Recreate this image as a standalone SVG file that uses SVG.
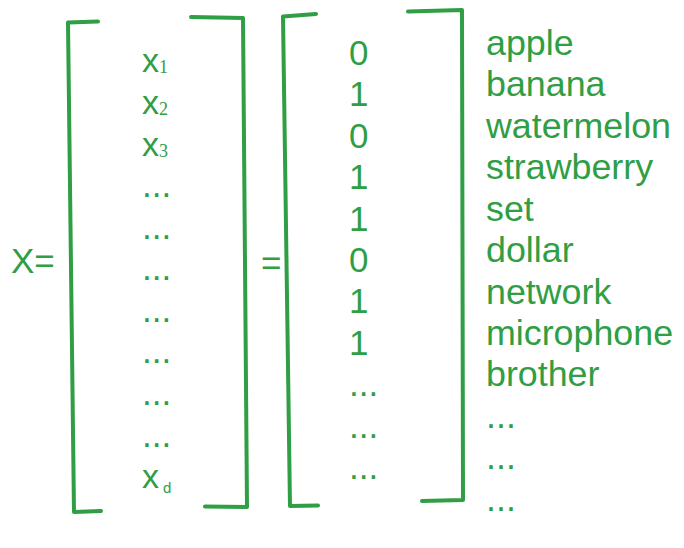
<svg xmlns="http://www.w3.org/2000/svg" width="684" height="548" viewBox="0 0 684 548">
<style>
.br{fill:none;stroke:#2f9e44;stroke-width:4;stroke-linecap:round;stroke-linejoin:round}
.t{font-family:"Liberation Sans",Arial,sans-serif;fill:#2f9e44}
.m{font-size:35px}
.w{font-size:35.8px}
.v{font-size:34px}
.sub{font-family:"Liberation Serif","Times New Roman",serif;font-size:18px;fill:#2f9e44}
.subs{font-family:"Liberation Sans",Arial,sans-serif;font-size:15px;fill:#2f9e44}
</style>
<rect width="684" height="548" fill="#ffffff"/>
<g id="brackets">
<path class="br" d="M98,21.5 L68,22.5 L74,512 L101,511"/>
<path class="br" d="M191,17 L243,18 L247,507 L205,506.5"/>
<path class="br" d="M316,14 L283,16.5 L290,506 L318,505.5"/>
<path class="br" d="M408,11.5 L462,10 L463,500 L422,501"/>
</g>
<g id="label-X">
<text class="t m" x="11" y="273">X=</text>
</g>
<g id="equals">
<text class="t m" x="261" y="275">=</text>
</g>
<g id="vector-x">
<text class="t v" x="142" y="72">x<tspan class="sub" dx="0" dy="1">1</tspan></text>
<text class="t v" x="142" y="114">x<tspan class="sub" dx="0" dy="1">2</tspan></text>
<text class="t v" x="142" y="156">x<tspan class="sub" dx="0" dy="1">3</tspan></text>
<text class="t m" x="142" y="197">...</text>
<text class="t m" x="142" y="239">...</text>
<text class="t m" x="142" y="280">...</text>
<text class="t m" x="142" y="322">...</text>
<text class="t m" x="142" y="363">...</text>
<text class="t m" x="142" y="405">...</text>
<text class="t m" x="142" y="447">...</text>
<text class="t v" x="142" y="488">x<tspan class="subs" dx="4" dy="5">d</tspan></text>
</g>
<g id="vector-values">
<text class="t m" x="349" y="65">0</text>
<text class="t m" x="349" y="106">1</text>
<text class="t m" x="349" y="148">0</text>
<text class="t m" x="349" y="189">1</text>
<text class="t m" x="349" y="231">1</text>
<text class="t m" x="349" y="272">0</text>
<text class="t m" x="349" y="313">1</text>
<text class="t m" x="349" y="355">1</text>
<text class="t m" x="349" y="396">...</text>
<text class="t m" x="349" y="438">...</text>
<text class="t m" x="349" y="479">...</text>
</g>
<g id="vocabulary">
<text class="t w" x="486" y="55">apple</text>
<text class="t w" x="486" y="96">banana</text>
<text class="t w" x="486" y="138">watermelon</text>
<text class="t w" x="486" y="179">strawberry</text>
<text class="t w" x="486" y="221">set</text>
<text class="t w" x="486" y="262">dollar</text>
<text class="t w" x="486" y="304">network</text>
<text class="t w" x="486" y="345">microphone</text>
<text class="t w" x="486" y="386">brother</text>
<text class="t w" x="486" y="428">...</text>
<text class="t w" x="486" y="469">...</text>
<text class="t w" x="486" y="511">...</text>
</g>
</svg>
